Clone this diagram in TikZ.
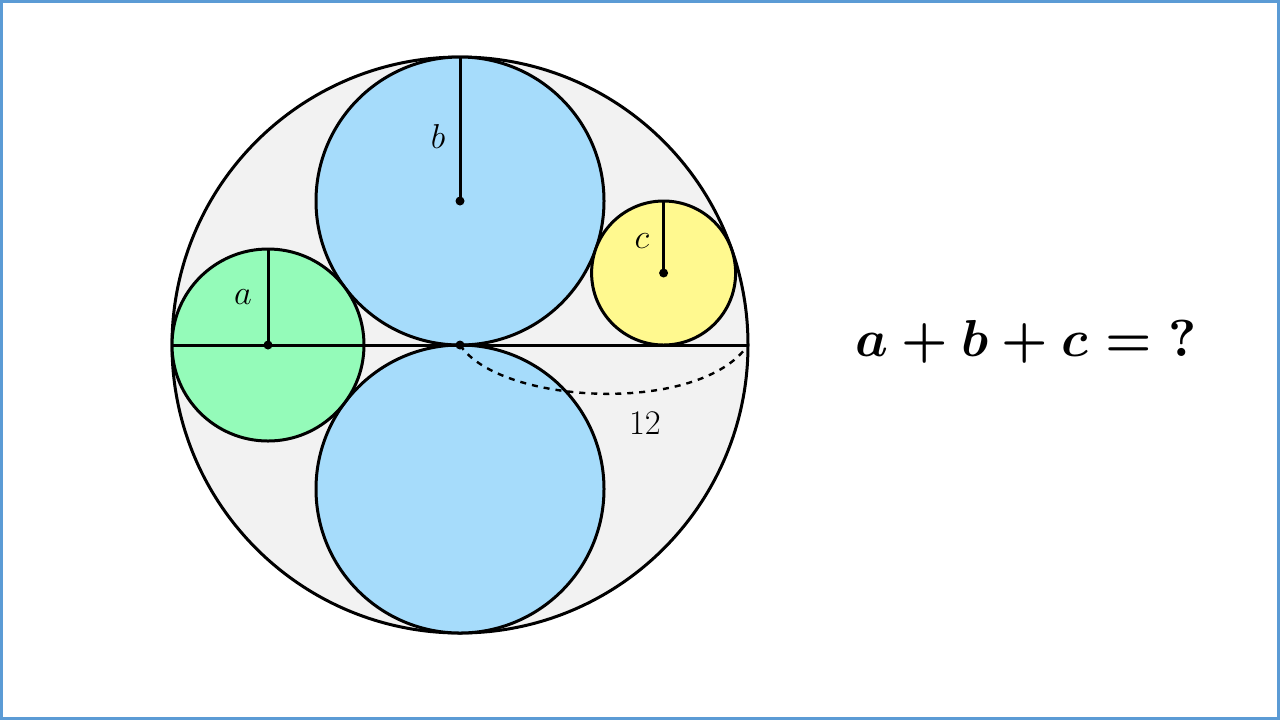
\documentclass[tikz,border=0pt]{standalone}
\usepackage{amsmath}
\definecolor{bg}{HTML}{F2F2F2}
\definecolor{bl}{HTML}{A6DCFB}
\definecolor{gr}{HTML}{94FBB9}
\definecolor{ye}{HTML}{FFF98F}
\definecolor{fr}{HTML}{5B9BD5}
\newcommand{\myequation}{\mbox{\boldmath$a+b+c=\mathbf{?}$}}
\begin{document}
\begin{tikzpicture}[x=0.5pt,y=-0.5pt,line width=1.5pt,
  lbl/.style={font=\fontsize{16}{18}\selectfont}]
\useasboundingbox (0,0) rectangle (1280,720);
\fill[white] (0,0) rectangle (1280,720);
\draw[fr,line width=1.5pt] (1.5,1.5) rectangle (1278.5,718.5);
\draw[fill=bg] (460,345) circle (288);
\draw[fill=bl] (460,201) circle (144);
\draw[fill=bl] (460,489) circle (144);
\draw[fill=gr] (268,345) circle (96);
\draw[fill=ye] (663.6,273) circle (72);
\draw (172,345) -- (748,345);
\draw (268,345) -- (268,249);
\draw (460,201) -- (460,57);
\draw (663.6,273) -- (663.6,201);
\draw[dashed,line width=1.2pt] (460,345) .. controls (500,405) and (700,415) .. (748,345);
\fill (268,345) circle (4.5);
\fill (460,201) circle (4.5);
\fill (460,345) circle (4.5);
\fill (663.6,273) circle (4.5);
\node[lbl] (la) at (243,297) {$a$};
\node[lbl] (lb) at (438,136) {$b$};
\node[lbl] (lc) at (642,241) {$c$};
\node[lbl] (l12) at (645,423) {$12$};
\node[scale=2.6] (eq) at (1026,342) {\myequation};
\end{tikzpicture}
\end{document}
